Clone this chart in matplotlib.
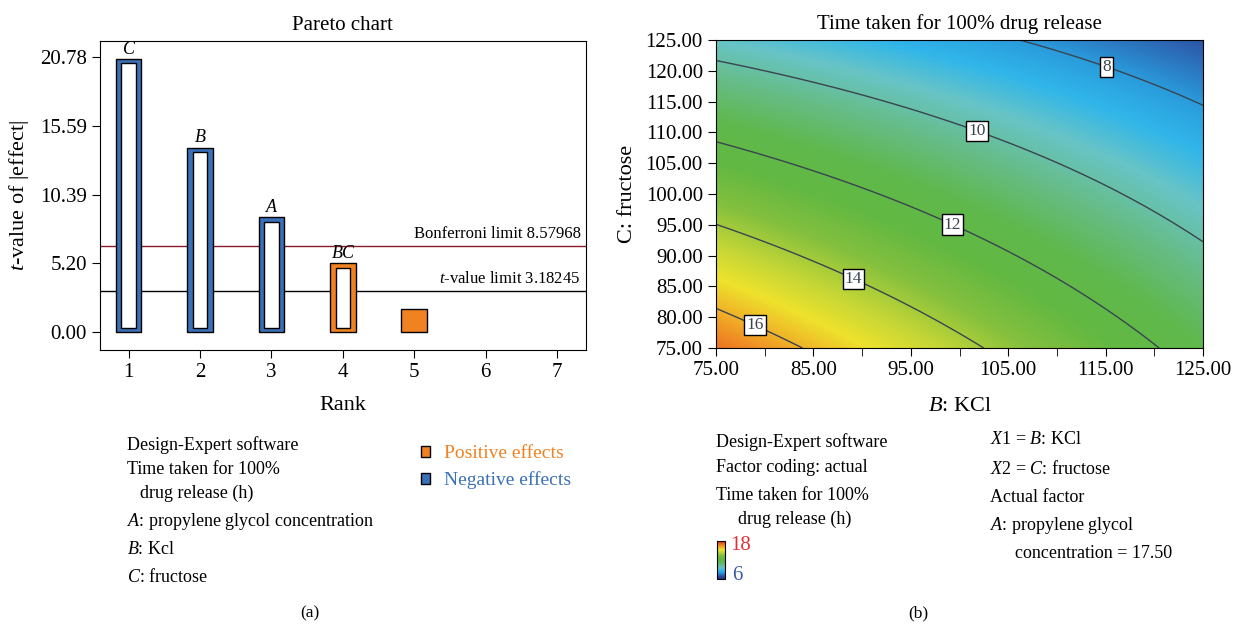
import numpy as np
import matplotlib
matplotlib.use('Agg')
import matplotlib.pyplot as plt
from matplotlib.colors import LinearSegmentedColormap, Normalize
from matplotlib.patches import Patch
import matplotlib.cm as cm

plt.rcParams['font.family'] = ['Liberation Serif', 'DejaVu Serif']
plt.rcParams['mathtext.fontset'] = 'custom'
plt.rcParams['mathtext.rm'] = 'Liberation Serif'
plt.rcParams['mathtext.it'] = 'Liberation Serif:italic'
plt.rcParams['font.size'] = 13

# ---- Pareto chart data (a)
ranks = [1, 2, 3, 4, 5]
effect_names = ['C', 'B', 'A', 'BC', '']
t_values = [20.65, 13.95, 8.69, 5.21, 1.74]
positive = [False, False, False, True, True]
hollow = [True, True, True, True, False]
bonferroni_drawn = 6.55
t_limit_drawn = 3.10
bonferroni_label = 'Bonferroni limit 8.57968'
t_limit_label = '$t$-value limit 3.18245'
pareto_yticks = [0.00, 5.20, 10.39, 15.59, 20.78]
rank_ticks = [1, 2, 3, 4, 5, 6, 7]

# ---- response surface (b): fitted quadratic in coded units
b0, bB, bC, bBC, bBB, bCC = 11.35, -1.98, -2.98, 0.74, -0.06, -0.06
kcl_range = [75.0, 125.0]
fructose_range = [75.0, 125.0]
contour_levels = [8, 10, 12, 14, 16]
label_spots = [(115.2, 121.1), (101.8, 110.2), (99.3, 95.1), (89.2, 86.5), (79.2, 79.4)]
surf_ticks = [75, 85, 95, 105, 115, 125]
surf_yticks = [75, 80, 85, 90, 95, 100, 105, 110, 115, 120, 125]

blue = '#3a70b8'
orange = '#f08222'

fig = plt.figure(figsize=(12.33, 6.28), dpi=100)

# ---------------- (a) Pareto
ax1 = fig.add_axes([0.0811, 0.4427, 0.394, 0.4925])
inset = 0.33
for r, t, pos, h, name in zip(ranks, t_values, positive, hollow, effect_names):
    c = orange if pos else blue
    ax1.bar(r, t, width=0.36, color=c, edgecolor='black', linewidth=1.0, zorder=3)
    if h:
        ax1.bar(r, t - 2 * inset, bottom=inset, width=0.2, color='white',
                edgecolor='black', linewidth=1.0, zorder=4)
    if name:
        ax1.text(r, t + 0.1, name, ha='center', va='bottom', style='italic', fontsize=13)

ax1.axhline(bonferroni_drawn, color='#8b1a2b', linewidth=1.0, zorder=2)
ax1.axhline(t_limit_drawn, color='black', linewidth=1.0, zorder=2)
ax1.text(7.33, bonferroni_drawn + 0.3, bonferroni_label, ha='right', va='bottom', fontsize=12)
ax1.text(7.33, t_limit_drawn + 0.3, t_limit_label, ha='right', va='bottom', fontsize=12)

ax1.set_xlim(0.6, 7.4)
ax1.set_ylim(-1.34, 22.04)
ax1.set_xticks(rank_ticks)
ax1.set_yticks(pareto_yticks)
ax1.set_yticklabels(['%.2f' % v for v in pareto_yticks])
ax1.tick_params(direction='out', length=6, labelsize=15)
ax1.set_xlabel('Rank', fontsize=16, labelpad=10)
ax1.set_ylabel('$t$-value of |effect|', fontsize=16, labelpad=6)
ax1.set_title('Pareto chart', fontsize=15, pad=8)

# ---------------- (b) contour
ax2 = fig.add_axes([0.5807, 0.4459, 0.395, 0.4904])
B = np.linspace(kcl_range[0], kcl_range[1], 400)
C = np.linspace(fructose_range[0], fructose_range[1], 400)
BB, CC = np.meshgrid(B, C)
xb = (BB - 100) / 25.0
xc = (CC - 100) / 25.0
Z = b0 + bB * xb + bC * xc + bBC * xb * xc + bBB * xb ** 2 + bCC * xc ** 2

nodes = [(6.0, '#1e2f7a'), (7.0, '#2d55a6'), (8.0, '#2a9cdc'), (8.7, '#30b6ea'),
         (9.5, '#68c4c6'), (10.5, '#66bc84'), (11.5, '#5fb84c'), (12.5, '#62b842'),
         (13.5, '#84c03e'), (14.5, '#c4d636'), (15.3, '#eee22c'), (16.0, '#f0b428'),
         (16.6, '#f08a24'), (17.3, '#e85a20'), (18.0, '#d8202a')]
cmap = LinearSegmentedColormap.from_list(
    'de', [((v - 6.0) / 12.0, c) for v, c in nodes])
norm = Normalize(6, 18)

ax2.imshow(Z, origin='lower', extent=[75, 125, 75, 125], cmap=cmap, norm=norm,
           aspect='auto', interpolation='bilinear')
cs = ax2.contour(BB, CC, Z, levels=contour_levels, colors='#3a4450', linewidths=1.0)
labels = ax2.clabel(cs, fmt='%d', inline=True, inline_spacing=2, fontsize=12.5,
                    manual=label_spots)
for t in labels:
    t.set_rotation(0)
    t.set_bbox(dict(facecolor='white', edgecolor='black', pad=1.5, linewidth=1.0))

ax2.set_xlim(75, 125)
ax2.set_ylim(75, 125)
ax2.set_xticks(surf_ticks)
ax2.set_xticklabels(['%.2f' % v for v in surf_ticks])
ax2.set_xticks(np.arange(80, 125, 10), minor=True)
ax2.set_yticks(surf_yticks)
ax2.set_yticklabels(['%.2f' % v for v in surf_yticks])
ax2.tick_params(direction='out', length=6, labelsize=15)
ax2.tick_params(which='minor', direction='out', length=6)
ax2.set_xlabel('$B$: KCl', fontsize=16, labelpad=12)
ax2.set_ylabel('C: fructose', fontsize=16, labelpad=6)
ax2.set_title('Time taken for 100% drug release', fontsize=15, pad=8)

# ---------------- text blocks
def yf(py):
    return 1 - py / 628.0

fs = 13
fig.text(127 / 1233, yf(445), 'Design-Expert software', va='center', fontsize=fs)
fig.text(127 / 1233, yf(469), 'Time taken for 100%', va='center', fontsize=fs)
fig.text(140 / 1233, yf(493), 'drug release (h)', va='center', fontsize=fs)
fig.text(127 / 1233, yf(522), '$A$: propylene glycol concentration', va='center', fontsize=fs)
fig.text(127 / 1233, yf(549), '$B$: Kcl', va='center', fontsize=fs)
fig.text(127 / 1233, yf(577), '$C$: fructose', va='center', fontsize=fs)

fig.legend(handles=[Patch(facecolor=orange, edgecolor='black'),
                    Patch(facecolor=blue, edgecolor='black')],
           labels=['Positive effects', 'Negative effects'],
           labelcolor=[orange, blue], loc='upper left',
           bbox_to_anchor=(403 / 1233, yf(428)), frameon=False,
           handlelength=0.5, handleheight=0.5, handletextpad=0.7,
           labelspacing=0.45, fontsize=14)

fig.text(716 / 1233, yf(442), 'Design-Expert software', va='center', fontsize=fs)
fig.text(716 / 1233, yf(468), 'Factor coding: actual', va='center', fontsize=fs)
fig.text(716 / 1233, yf(496), 'Time taken for 100%', va='center', fontsize=fs)
fig.text(738 / 1233, yf(519), 'drug release (h)', va='center', fontsize=fs)

fig.text(990 / 1233, yf(440), '$X1$ = $B$: KCl', va='center', fontsize=fs)
fig.text(990 / 1233, yf(469), '$X2$ = $C$: fructose', va='center', fontsize=fs)
fig.text(990 / 1233, yf(497), 'Actual factor', va='center', fontsize=fs)
fig.text(990 / 1233, yf(525), '$A$: propylene glycol', va='center', fontsize=fs)
fig.text(1015 / 1233, yf(554), 'concentration = 17.50', va='center', fontsize=fs)

cax = fig.add_axes([717 / 1233, yf(579), 8 / 1233, 38 / 628])
cb = fig.colorbar(cm.ScalarMappable(norm=norm, cmap=cmap), cax=cax)
cb.set_ticks([])
cb.outline.set_linewidth(0.8)
fig.text(730 / 1233, yf(545), '18', va='center', color='#e0303a', fontsize=15)
fig.text(732 / 1233, yf(576), '6', va='center', color='#3a5aa8', fontsize=15)

fig.text(310 / 1233, yf(613), '(a)', ha='center', va='center', fontsize=12.5)
fig.text(918 / 1233, yf(613), '(b)', ha='center', va='center', fontsize=12.5)

fig.savefig('out.png', dpi=100)
